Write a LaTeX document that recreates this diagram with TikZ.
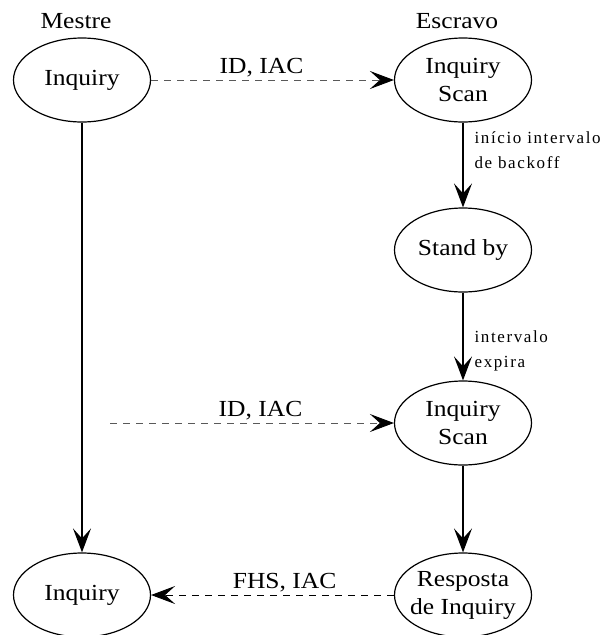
\documentclass[tikz,border=0pt]{standalone}
\usepackage{fontspec}
\setmainfont{Liberation Serif}[FakeStretch=1.11]
\newfontfamily\lblfont{Liberation Serif}[LetterSpace=9.5]
\usetikzlibrary{arrows.meta,shapes.geometric}
\tikzset{
    state/.style={ellipse, draw, line width=1.2pt, minimum width=137pt, minimum height=84pt,
        inner xsep=-8pt, inner ysep=0pt, align=center, font=\fontsize{23}{28}\selectfont},
    role/.style={font=\fontsize{23}{26}\selectfont},
    tip/.style={-{Stealth[length=24pt,width=18pt,inset=10pt,color=black]}},
    trans/.style={tip, line width=1.2pt},
    msg/.style={tip, line width=0.9pt, dash pattern=on 7pt off 6pt},
    msglbl/.style={above, inner sep=3pt, text=black, font=\fontsize{23}{26}\selectfont},
    translbl/.style={anchor=west, xshift=11pt, inner sep=0pt, align=left, font=\lblfont\fontsize{17}{25}\selectfont},
}
\begin{document}
\begin{tikzpicture}[x=1pt, y=-1pt]

    \useasboundingbox (0,0) rectangle (603,635);

    \draw (76,21) node[role](mestre){Mestre};
    \draw (457,21) node[role](escravo){Escravo};

    \draw (82,80) node[state](inqA){Inquiry};
    \draw (463,80) node[state](scanA){Inquiry\\Scan};
    \draw (463,250) node[state](standby){Stand by};
    \draw (463,423) node[state](scanB){Inquiry\\Scan};
    \draw (463,595) node[state](resp){Resposta\\de Inquiry};
    \draw (82,595) node[state](inqB){Inquiry};
    \coordinate (srcB) at (110,423);

    \draw [msg, black!65] (inqA) -- (scanA) node[msglbl, pos=0.455](idA){ID, IAC};
    \draw [msg, black!65] (srcB) -- (scanB) node[msglbl, pos=0.53](idB){ID, IAC};
    \draw [msg] (resp) -- (inqB) node[msglbl, pos=0.45](fhs){FHS, IAC};

    \draw [trans] (inqA) -- (inqB);
    \draw [trans] (scanA) -- (standby) node[translbl, pos=0.33](backoff){início intervalo\\de backoff};
    \draw [trans] (standby) -- (scanB) node[translbl, pos=0.66](expira){intervalo\\expira};
    \draw [trans] (scanB) -- (resp);

\end{tikzpicture}
\end{document}
